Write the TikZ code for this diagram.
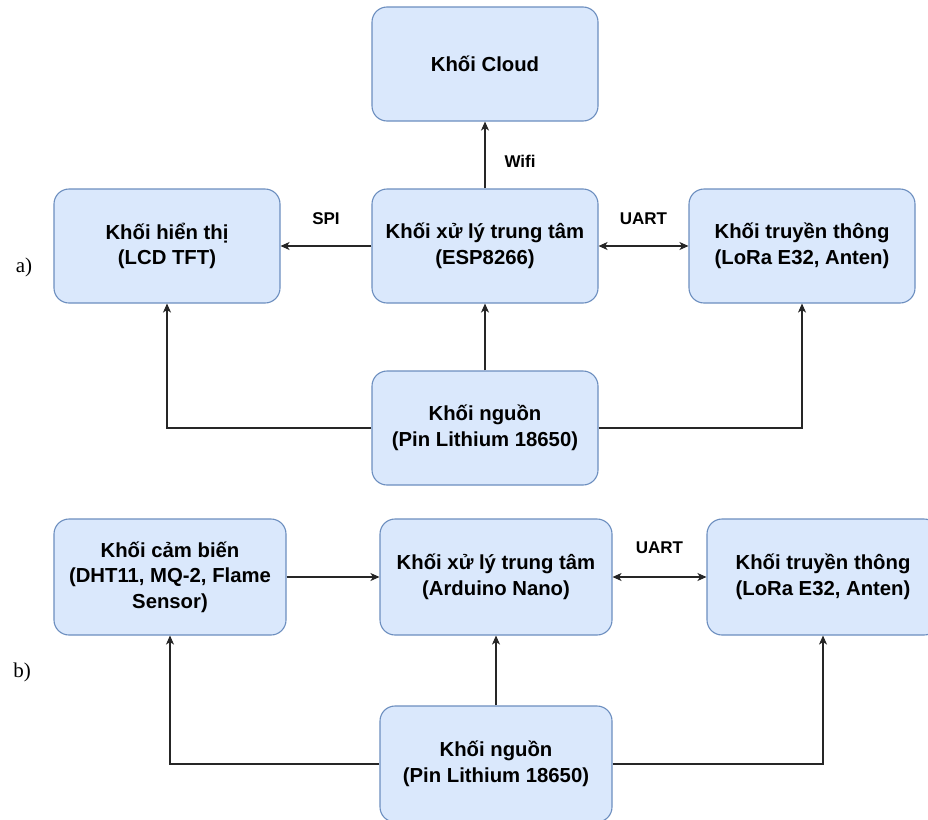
\documentclass[tikz,border=0pt]{standalone}
\usepackage{fontspec}
\setmainfont{Liberation Sans}
\newfontfamily\serifletter{Liberation Serif}
\usetikzlibrary{arrows.meta}
\definecolor{boxfill}{HTML}{DAE8FC}
\definecolor{boxline}{HTML}{6C8EBF}
\tikzset{
  blk/.style={draw=boxline, fill=boxfill, line width=1.1pt, rounded corners=15pt,
    align=center, inner sep=0pt, font=\fontsize{20.3}{25.5}\selectfont\bfseries},
  blkA/.style={blk, minimum width=226pt, minimum height=114pt},
  blkB/.style={blk, minimum width=232pt, minimum height=116pt},
  arr/.style={draw=black!85, line width=1.1pt, -{Stealth[length=9pt,width=8pt,inset=2.5pt]}},
  darr/.style={draw=black!85, line width=1.1pt, {Stealth[length=9pt,width=8pt,inset=2.5pt]}-{Stealth[length=9pt,width=8pt,inset=2.5pt]}},
  lbl/.style={font=\fontsize{17}{20}\selectfont\bfseries, inner sep=0pt},
  part/.style={font=\serifletter\fontsize{21}{24}\selectfont, inner sep=0pt}
}
\begin{document}
\begin{tikzpicture}[x=1pt, y=-1pt]
\useasboundingbox (0,0) rectangle (928,819);
% part a
\node[blkA] (cloud) at (485,64) {Khối Cloud};
\node[blkA] (disp) at (167,246) {Khối hiển thị\\(LCD TFT)};
\node[blkA] (esp) at (485,246) {Khối xử lý trung tâm\\(ESP8266)};
\node[blkA] (comm) at (802,246) {Khối truyền thông\\(LoRa E32, Anten)};
\node[blkA] (pwrA) at (485,428) {Khối nguồn\\(Pin Lithium 18650)};
\node[part] (la) at (24,267) {a)};
\draw[arr] (esp.north) -- node[lbl, pos=0.4, right=19pt] {Wifi} (cloud.south);
\draw[arr] (esp.west) -- node[lbl, midway, yshift=27pt] {SPI} (disp.east);
\draw[darr] (esp.east) -- node[lbl, midway, yshift=27pt] {UART} (comm.west);
\draw[arr] (pwrA.north) -- (esp.south);
\draw[arr] (pwrA.west) -| (disp.south);
\draw[arr] (pwrA.east) -| (comm.south);
% part b
\node[blkB] (sens) at (170,577) {Khối cảm biến\\(DHT11, MQ-2, Flame\\Sensor)};
\node[blkB] (mcu) at (496,577) {Khối xử lý trung tâm\\(Arduino Nano)};
\node[blkB] (commB) at (823,577) {Khối truyền thông\\(LoRa E32, Anten)};
\node[blkB] (pwrB) at (496,764) {Khối nguồn\\(Pin Lithium 18650)};
\node[part] (lb) at (22,672) {b)};
\draw[arr] (sens.east) -- (mcu.west);
\draw[darr] (mcu.east) -- node[lbl, midway, yshift=29pt] {UART} (commB.west);
\draw[arr] (pwrB.north) -- (mcu.south);
\draw[arr] (pwrB.west) -| (sens.south);
\draw[arr] (pwrB.east) -| (commB.south);
\end{tikzpicture}
\end{document}
